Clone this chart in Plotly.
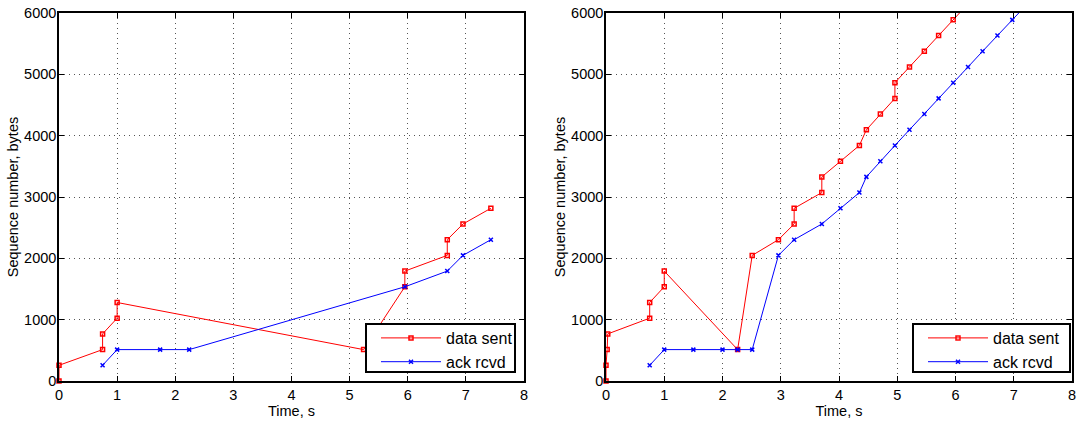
import plotly.graph_objects as go

# ---------------- data ----------------
# Left panel
left_sent_t = [0, 0, 0.75, 0.75, 1.0, 1.0, 5.24, 5.95, 5.95, 6.68, 6.68, 6.95, 7.43]
left_sent_seq = [0, 256, 512, 768, 1024, 1280, 512, 1536, 1792, 2048, 2304, 2560, 2816]
left_ack_t = [0.75, 1.0, 1.74, 2.24, 5.95, 6.68, 6.95, 7.43]
left_ack_seq = [256, 512, 512, 512, 1536, 1792, 2048, 2304]

# Right panel
right_sent_t = [0, 0, 0.02, 0.03, 0.75, 0.75, 1.0, 1.0, 2.26, 2.51, 2.96, 3.23, 3.23,
                3.705, 3.705, 4.025, 4.35, 4.47, 4.71, 4.96, 4.96, 5.21, 5.465, 5.71,
                5.96, 6.21]
right_sent_seq = [0, 256, 512, 768, 1024, 1280, 1536, 1792, 512, 2048, 2304, 2560, 2816,
                  3072, 3328, 3584, 3840, 4096, 4352, 4608, 4864, 5120, 5376, 5632,
                  5888, 6144]
right_ack_t = [0.75, 1.0, 1.5, 2.0, 2.26, 2.51, 2.96, 3.23, 3.705, 4.025, 4.35, 4.47,
               4.71, 4.96, 5.21, 5.465, 5.71, 5.96, 6.215, 6.465, 6.72, 6.975, 7.23]
right_ack_seq = [256, 512, 512, 512, 512, 512, 2048, 2304, 2560, 2816, 3072, 3328,
                 3584, 3840, 4096, 4352, 4608, 4864, 5120, 5376, 5632, 5888, 6144]

series_names = ["data sent", "ack rcvd"]
x_title = "Time, s"
y_title = "Sequence number, bytes"
x_range = [0, 8]
y_range = [0, 6000]

# ---------------- figure ----------------
W, H = 1079, 421
FONT = "Liberation Sans, Arial, Helvetica, sans-serif"
RED = "#ff0000"
BLUE = "#0000ff"

fig = go.Figure()


def vis(seq):
    # hide markers that fall outside the visible y range
    return [1 if y_range[0] <= v <= y_range[1] else 0 for v in seq]


def add_pair(sent_t, sent_seq, ack_t, ack_seq, xa, ya, leg):
    fig.add_trace(go.Scatter(
        x=sent_t, y=sent_seq, mode="lines+markers", name=series_names[0],
        line=dict(color=RED, width=1), cliponaxis=False,
        marker=dict(symbol="square-open", size=4, color=RED, opacity=vis(sent_seq),
                    line=dict(width=1.5, color=RED)),
        xaxis=xa, yaxis=ya, legend=leg))
    fig.add_trace(go.Scatter(
        x=ack_t, y=ack_seq, mode="lines+markers", name=series_names[1],
        line=dict(color=BLUE, width=1), cliponaxis=False,
        marker=dict(symbol="x-thin", size=4, color=BLUE, opacity=vis(ack_seq),
                    line=dict(width=1.5, color=BLUE)),
        xaxis=xa, yaxis=ya, legend=leg))


add_pair(left_sent_t, left_sent_seq, left_ack_t, left_ack_seq, "x", "y", "legend")
add_pair(right_sent_t, right_sent_seq, right_ack_t, right_ack_seq, "x2", "y2", "legend2")

# plot-area pixel geometry
L1, R1 = 59, 524
L2, R2 = 606, 1072
TOP, BOT = 13, 381


def fx(px):
    return px / W


def fy(py):
    return 1 - py / H


axis_common = dict(
    showline=True, linecolor="black", linewidth=1.5, mirror="ticks",
    ticks="inside", ticklen=5, tickcolor="black", tickwidth=1,
    showgrid=True, gridcolor="#555555", gridwidth=1, griddash="1px,4px",
    zeroline=False, automargin=False,
    tickfont=dict(family=FONT, size=14.5, color="black"),
)

xa = dict(axis_common, range=x_range, tick0=0, dtick=1,
          title=dict(text=x_title, font=dict(family=FONT, size=14.5, color="black"), standoff=2))
ya = dict(axis_common, range=y_range, tick0=0, dtick=1000, ticklabelstandoff=-2,
          title=dict(text=y_title, font=dict(family=FONT, size=14.5, color="black"), standoff=2))

fig.update_layout(
    width=W, height=H,
    margin=dict(l=0, r=0, t=0, b=0),
    paper_bgcolor="white", plot_bgcolor="white",
    font=dict(family=FONT, color="black"),
    xaxis=dict(xa, domain=[fx(L1), fx(R1)], anchor="y"),
    yaxis=dict(ya, domain=[fy(BOT), fy(TOP)], anchor="x"),
    xaxis2=dict(xa, domain=[fx(L2), fx(R2)], anchor="y2"),
    yaxis2=dict(ya, domain=[fy(BOT), fy(TOP)], anchor="x2"),
    showlegend=True,
)

# legend boxes (drawn as shapes) + legends
boxes = [(366, 515, 324, 372), (913, 1070, 324, 372)]
for (bl, br, bt, bb) in boxes:
    fig.add_shape(type="rect", xref="paper", yref="paper",
                  x0=fx(bl), x1=fx(br), y0=fy(bb), y1=fy(bt),
                  fillcolor="white", line=dict(color="black", width=2), layer="above")

leg_common = dict(
    bgcolor="rgba(0,0,0,0)", borderwidth=0,
    font=dict(family=FONT, size=16, color="black"),
    xanchor="left", yanchor="top", itemwidth=60, tracegroupgap=0,
    xref="paper", yref="paper",
)
fig.update_layout(
    legend=dict(leg_common, x=fx(boxes[0][0] + 10), y=fy(boxes[0][2] - 3)),
    legend2=dict(leg_common, x=fx(boxes[1][0] + 10), y=fy(boxes[1][2] - 3)),
)

fig.write_html("out.html")
